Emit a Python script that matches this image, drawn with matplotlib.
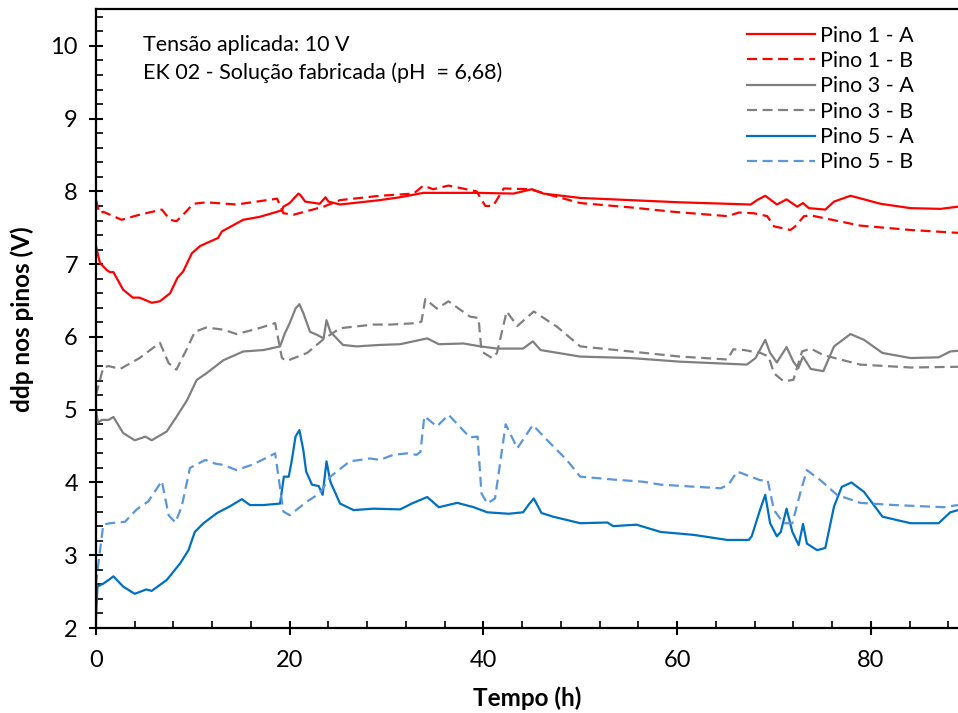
import numpy as np
import matplotlib.pyplot as plt
from matplotlib.ticker import MultipleLocator

plt.rcParams['font.family'] = ['Lato', 'DejaVu Sans']

# Pino 1
p1a_t = [0, 0.4, 1.1, 1.45, 1.8, 2.8, 3.8, 4.5, 5.75, 6.6, 7.65, 8.4, 9.0, 9.9, 10.75,
         12.6, 13.0, 15.2, 16.9, 19.2, 19.35, 20.0, 20.9, 21.1, 21.6, 23.1, 23.7, 24.0,
         25.2, 29.3, 31.4, 33.8, 39.3, 43.1, 45.0, 46.2, 50.0, 55.2, 60.3, 67.6, 68.25,
         69.1, 70.3, 71.3, 72.4, 73.0, 73.6, 75.3, 76.2, 77.9, 81.0, 84.1, 87.2, 89.0]
p1a_v = [7.25, 7.02, 6.92, 6.89, 6.89, 6.65, 6.54, 6.54, 6.47, 6.49, 6.6, 6.81, 6.9, 7.15, 7.25,
         7.36, 7.45, 7.61, 7.65, 7.74, 7.79, 7.84, 7.97, 7.95, 7.86, 7.83, 7.92, 7.86,
         7.82, 7.88, 7.92, 7.98, 7.98, 7.97, 8.03, 7.97, 7.91, 7.88, 7.85, 7.82, 7.88,
         7.94, 7.82, 7.89, 7.79, 7.84, 7.77, 7.75, 7.86, 7.94, 7.83, 7.77, 7.76, 7.79]

p1b_t = [0, 0.35, 0.75, 2.65, 4.5, 6.8, 7.65, 8.3, 9.0, 10.05, 11.4, 14.5, 18.7, 19.35,
         20.4, 23.5, 25.2, 29.3, 32.8, 33.8, 34.8, 36.4, 39.3, 40.2, 41.0, 42.1, 44.8,
         46.9, 50.0, 55.2, 59.6, 65.2, 66.4, 67.9, 69.3, 70.0, 71.7, 72.2, 73.1, 73.8,
         78.9, 84.1, 89.0]
p1b_v = [7.88, 7.70, 7.72, 7.61, 7.68, 7.75, 7.61, 7.59, 7.68, 7.83, 7.85, 7.82, 7.90, 7.70,
         7.68, 7.79, 7.88, 7.94, 7.97, 8.08, 8.03, 8.08, 8.0, 7.80, 7.80, 8.04, 8.03,
         7.95, 7.84, 7.78, 7.72, 7.66, 7.71, 7.70, 7.66, 7.52, 7.47, 7.52, 7.66, 7.67,
         7.53, 7.47, 7.43]

# Pino 3
p3a_t = [0, 0.2, 0.6, 1.3, 1.8, 2.8, 4.0, 5.1, 5.75, 7.3, 8.3, 9.4, 10.4, 11.4, 13.15,
         15.2, 17.3, 19.0, 19.5, 20.0, 20.6, 21.0, 21.4, 22.1, 22.8, 23.5, 23.8, 24.2,
         25.5, 26.9, 29.3, 31.4, 34.2, 35.4, 37.95, 39.7, 41.4, 44.1, 45.1, 45.9, 50.0,
         55.2, 60.3, 67.2, 68.1, 69.1, 69.6, 70.3, 71.3, 72.0, 72.5, 73.0, 73.8, 75.1,
         76.2, 77.9, 79.3, 81.2, 84.1, 87.0, 88.2, 89.0]
p3a_v = [5.0, 4.82, 4.86, 4.86, 4.90, 4.68, 4.58, 4.63, 4.58, 4.70, 4.90, 5.13, 5.41, 5.50, 5.68,
         5.80, 5.82, 5.87, 6.05, 6.19, 6.39, 6.45, 6.33, 6.07, 6.03, 5.98, 6.23, 6.07,
         5.89, 5.87, 5.89, 5.90, 5.98, 5.90, 5.91, 5.87, 5.84, 5.84, 5.94, 5.82, 5.73,
         5.71, 5.66, 5.62, 5.71, 5.96, 5.78, 5.65, 5.86, 5.66, 5.57, 5.73, 5.56, 5.53,
         5.87, 6.04, 5.96, 5.78, 5.71, 5.72, 5.80, 5.81]

p3b_t = [0, 0.75, 1.3, 2.5, 4.5, 6.6, 7.5, 8.3, 9.4, 10.2, 11.4, 13.15, 14.5, 16.6, 18.5,
         19.2, 19.7, 21.8, 23.5, 25.2, 28.6, 30.4, 33.1, 33.6, 34.0, 35.2, 36.4, 38.6,
         39.5, 39.8, 40.9, 41.4, 42.4, 43.5, 45.2, 47.6, 50.0, 55.2, 60.3, 65.2, 65.8,
         66.9, 68.6, 69.45, 70.0, 71.0, 72.0, 72.9, 73.8, 75.1, 78.9, 84.1, 89.0]
p3b_v = [5.2, 5.58, 5.60, 5.56, 5.71, 5.92, 5.64, 5.55, 5.84, 6.07, 6.13, 6.10, 6.04, 6.11, 6.19,
         5.71, 5.67, 5.78, 5.97, 6.12, 6.17, 6.17, 6.19, 6.21, 6.52, 6.39, 6.49, 6.28,
         6.26, 5.80, 5.71, 5.78, 6.35, 6.15, 6.35, 6.14, 5.87, 5.80, 5.73, 5.69, 5.83,
         5.82, 5.78, 5.73, 5.50, 5.39, 5.41, 5.80, 5.84, 5.75, 5.62, 5.58, 5.59]

# Pino 5
p5a_t = [0, 0.15, 0.75, 1.3, 1.8, 2.8, 4.0, 5.2, 5.75, 7.3, 8.7, 9.55, 10.2, 11.1, 12.5,
         13.8, 15.05, 15.9, 17.3, 19.0, 19.4, 19.9, 20.2, 20.6, 21.0, 21.4, 21.7, 22.3,
         23.0, 23.4, 23.8, 24.2, 25.2, 26.6, 28.6, 31.4, 32.6, 34.2, 35.4, 37.3, 39.0,
         40.4, 42.6, 44.1, 44.7, 45.2, 46.0, 47.2, 50.0, 52.8, 53.4, 55.8, 58.3, 61.7,
         65.2, 67.4, 67.7, 68.6, 69.1, 69.6, 70.3, 70.7, 71.3, 71.9, 72.55, 73.0, 73.4,
         74.45, 75.3, 76.2, 77.0, 78.0, 79.3, 81.2, 84.1, 87.0, 88.2, 89.0]
p5a_v = [2.13, 2.57, 2.61, 2.66, 2.71, 2.57, 2.47, 2.53, 2.51, 2.66, 2.89, 3.07, 3.32, 3.44, 3.58,
         3.67, 3.77, 3.69, 3.69, 3.71, 4.08, 4.08, 4.29, 4.63, 4.72, 4.45, 4.15, 3.97,
         3.95, 3.83, 4.29, 4.01, 3.71, 3.62, 3.64, 3.63, 3.71, 3.80, 3.66, 3.72, 3.66,
         3.59, 3.57, 3.59, 3.70, 3.78, 3.58, 3.53, 3.44, 3.45, 3.40, 3.42, 3.32, 3.28,
         3.21, 3.21, 3.26, 3.64, 3.83, 3.44, 3.26, 3.32, 3.64, 3.32, 3.14, 3.43, 3.16,
         3.07, 3.10, 3.67, 3.94, 4.0, 3.87, 3.53, 3.44, 3.44, 3.59, 3.62]

p5b_t = [0, 0.25, 0.75, 1.45, 3.0, 4.2, 5.4, 6.8, 7.5, 8.2, 8.85, 9.7, 11.3, 12.3, 13.15,
         14.5, 16.25, 18.5, 19.35, 20.0, 21.8, 23.1, 24.2, 26.2, 28.3, 29.3, 30.7, 32.1,
         33.1, 33.5, 33.9, 35.2, 36.4, 38.6, 39.4, 39.8, 40.4, 41.2, 42.3, 43.5, 45.1,
         46.6, 48.6, 50.0, 53.4, 56.5, 58.3, 64.5, 65.3, 66.2, 68.6, 69.35, 70.0, 71.0,
         71.9, 72.7, 73.4, 74.8, 76.5, 78.9, 82.4, 87.5, 89.0]
p5b_v = [2.6, 2.89, 3.42, 3.44, 3.46, 3.63, 3.74, 4.02, 3.55, 3.45, 3.67, 4.20, 4.31, 4.26, 4.24,
         4.17, 4.25, 4.40, 3.60, 3.55, 3.74, 3.85, 4.08, 4.29, 4.33, 4.31, 4.38, 4.40,
         4.38, 4.42, 4.91, 4.77, 4.93, 4.62, 4.63, 3.85, 3.71, 3.78, 4.80, 4.47, 4.79,
         4.58, 4.31, 4.08, 4.04, 4.01, 3.97, 3.92, 3.97, 4.15, 4.03, 4.03, 3.62, 3.44,
         3.44, 3.85, 4.17, 4.03, 3.83, 3.72, 3.69, 3.66, 3.69]

series = [
    (p1a_t, p1a_v, 'Pino 1 - A', '#FF0000', '-'),
    (p1b_t, p1b_v, 'Pino 1 - B', '#FF0000', (0, (4.5, 2.5))),
    (p3a_t, p3a_v, 'Pino 3 - A', '#808080', '-'),
    (p3b_t, p3b_v, 'Pino 3 - B', '#808080', (0, (4.5, 2.5))),
    (p5a_t, p5a_v, 'Pino 5 - A', '#0070C0', '-'),
    (p5b_t, p5b_v, 'Pino 5 - B', '#5B95DB', (0, (4.5, 2.5))),
]

fig = plt.figure(figsize=(9.58, 7.13), dpi=100)
ax = fig.add_axes([0.1002, 0.1192, 0.8998, 0.8675])

for t, v, lab, col, ls in series:
    ax.plot(t, v, color=col, linestyle=ls, linewidth=1.6, label=lab)

ax.set_xlim(0, 89)
ax.set_ylim(2, 10.5)
ax.xaxis.set_major_locator(MultipleLocator(20))
ax.xaxis.set_minor_locator(MultipleLocator(4))
ax.yaxis.set_major_locator(MultipleLocator(1))
ax.yaxis.set_minor_locator(MultipleLocator(0.2))
ax.tick_params(which='major', direction='inout', length=10, width=1.5, labelsize=17)
ax.tick_params(axis='x', which='major', pad=11)
ax.tick_params(axis='y', which='major', pad=8)
ax.tick_params(which='minor', direction='in', length=5, width=1.2)
for s in ['left', 'bottom', 'top']:
    ax.spines[s].set_linewidth(1.6)
ax.spines['right'].set_visible(False)

ax.set_xlabel('Tempo (h)', fontsize=17.5, fontweight='bold', labelpad=11)
ax.set_ylabel('ddp nos pinos (V)', fontsize=17.5, fontweight='bold', labelpad=12)

ax.text(0.0545, 0.943, 'Tensão aplicada: 10 V', transform=ax.transAxes,
        fontsize=15.5, va='center')
ax.text(0.0545, 0.897, 'EK 02 - Solução fabricada (pH  = 6,68)', transform=ax.transAxes,
        fontsize=15.5, va='center')

ax.legend(loc='upper left', frameon=False, fontsize=15.5, handlelength=3.15,
          handletextpad=0.25, labelspacing=0.25, borderpad=0, borderaxespad=0,
          bbox_to_anchor=(0.755, 0.974))

fig.savefig('out.png', dpi=100)
